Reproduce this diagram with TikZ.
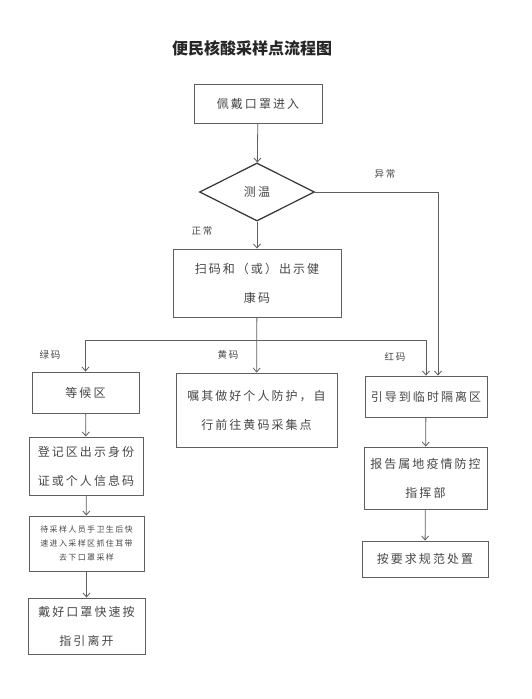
\documentclass[tikz,border=0pt]{standalone}
\usepackage{fontspec}
\setmainfont{Noto Sans CJK SC}
\newfontfamily\boxfont[LetterSpace=17]{Noto Sans CJK SC}
\usetikzlibrary{arrows.meta,shapes.geometric}
\definecolor{linecol}{RGB}{95,95,95}
\definecolor{textcol}{RGB}{70,70,70}

\begin{document}
\begin{tikzpicture}[x=1pt,y=-1pt,
   box/.style={draw=linecol,line width=0.9pt,inner sep=0pt,align=center,text=textcol,
     font=\boxfont\fontsize{12}{29}\selectfont},
   dia/.style={draw=black!80,line width=1.2pt,diamond,aspect=2,inner sep=0pt,text=textcol,
     font=\boxfont\fontsize{12}{15}\selectfont},
   lab/.style={text=textcol,font=\boxfont\fontsize{9.5}{11}\selectfont},
   arr/.style={draw=linecol,line width=0.8pt,-{Straight Barb[length=4pt,width=7pt]}}]
  \useasboundingbox (0,0) rectangle (532,699);
  \node[font=\bfseries\fontsize{16}{18}\selectfont,text=black!85] (title) at (252,48) {便民核酸采样点流程图};
  % main column
  \node[box,minimum width=128pt,minimum height=39pt] (enter) at (258,103.5) {佩戴口罩进入};
  \node[dia,minimum width=115pt,minimum height=58pt] (temp) at (257,192) {测温};
  \node[box,minimum width=168pt,minimum height=68pt] (scan) at (257,283) {扫码和（或）出示健\\康码};
  % three branches
  \node[box,minimum width=107pt,minimum height=41pt] (wait) at (85.5,392.5) {等候区};
  \node[box,minimum width=161pt,minimum height=74pt] (yellow) at (256.5,410) {嘱其做好个人防护，自\\行前往黄码采集点};
  \node[box,minimum width=122pt,minimum height=41pt] (guide) at (426,396.5) {引导到临时隔离区};
  % green code column
  \node[box,minimum width=114pt,minimum height=58pt] (reg) at (86,466) {登记区出示身份\\证或个人信息码};
  \node[box,minimum width=115pt,minimum height=55pt,font=\boxfont\fontsize{8}{14}\selectfont] (sample) at (86.5,543.5)
    {待采样人员手卫生后快\\速进入采样区抓住耳带\\去下口罩采样};
  \node[box,minimum width=117pt,minimum height=56pt] (leave) at (86.5,626) {戴好口罩快速按\\指引离开};
  % red code column
  \node[box,minimum width=123pt,minimum height=62pt] (report) at (425.5,478) {报告属地疫情防控\\指挥部};
  \node[box,minimum width=126pt,minimum height=36pt] (handle) at (425,559) {按要求规范处置};
  % connectors
  \coordinate (split) at (257,340);
  \draw[arr] (enter) -- (temp);
  \draw[arr] (temp) -- (scan);
  \draw[arr] (temp.east) -| ([xshift=12pt]guide.north);
  \draw[arr] (scan) -- (yellow);
  \draw[arr] (split) -| (wait.north);
  \draw[arr] (split) -| (guide.north);
  \draw[arr] (wait) -- (reg);
  \draw[arr] (reg) -- (sample);
  \draw[arr] (sample) -- (leave);
  \draw[arr] (guide) -- (report);
  \draw[arr] (report) -- (handle);
  % labels
  \node[lab] (abn) at (385,174) {异常};
  \node[lab] (norm) at (202,231) {正常};
  \node[lab] (green) at (50,355) {绿码};
  \node[lab] (yel) at (228,355) {黄码};
  \node[lab] (red) at (395,357) {红码};
\end{tikzpicture}
\end{document}
